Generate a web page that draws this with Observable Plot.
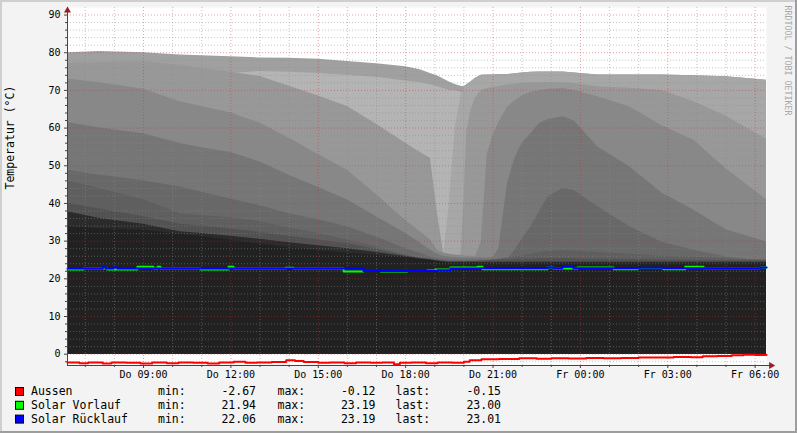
<!DOCTYPE html>
<html><head><meta charset="utf-8">
<script src="https://cdn.jsdelivr.net/npm/d3@7"></script>
<script src="https://cdn.jsdelivr.net/npm/@observablehq/plot@0.6"></script>
<style>
html,body{margin:0;padding:0;background:#f3f3f3;}
#wrap{position:relative;width:797px;height:433px;background:#f3f3f3;overflow:hidden;font-family:"DejaVu Sans Mono",monospace;}
#wrap svg{position:absolute;left:0;}
.bd{position:absolute;}
</style></head><body><div id="wrap"></div>
<script>
// time in hours since Thursday 00:00
const T = [6.39, 7.5, 9, 10.25, 11, 12, 13, 14, 15, 16, 17, 18, 18.5, 18.85, 19.1, 19.3, 19.5, 19.7, 19.9, 20.0, 20.1, 20.25, 20.4, 20.6, 20.8, 21.0, 21.2, 21.5, 21.75, 22.0, 22.3, 22.6, 22.9, 23.4, 23.8, 24.6, 25.7, 26.8, 27.9, 29.0, 30.39];

// stratified tank sensors (°C), drawn in this order
const sensor0 = [80,80.3,80,79.4,79.2,78.9,78.6,78.5,78.3,77.7,77.1,76.3,75.5,74.5,73.8,73,72.2,71.6,71.1,71,71.5,72.3,73.2,74,74.1,74.1,74.2,74.2,74.4,74.6,74.8,74.9,74.9,74.9,74.6,74.1,74.1,74.1,73.9,73.6,72.7];
const sensor1 = [74,74,75,75,74.5,74.5,75,74.8,74.5,74,73.5,72.5,72,71.5,71,70.5,70,70,69.5,69,66,62,60,60,60,60,60,60,60,60,60,60,60,60,60,60,60,60,60,60,60];
const sensor2 = [75,75,75.5,74.5,73.5,72.5,71.5,69,66.5,63.5,59,54,51.5,50,30,25.5,40,60,68.5,70.5,71.5,72.3,73.2,74,74.1,74.1,74.2,74.2,74.4,74.6,74.8,74.9,74.9,74.9,74.6,74.1,74.1,74.1,73.9,73.6,72.7];
const sensor3 = [77.2,77.4,77.6,76.7,75.8,74.8,73.7,71.1,68.5,65.7,61,56,53.5,52,37,27,26.3,26,26.3,40,59,65,68,70,70.5,70.8,71,71.5,71.7,71.8,72,72,72,72,71.8,71,70.6,70,67,63.2,57];
const sensor4 = [73,72,70.3,67,65.7,64,61.3,57.3,53,48.8,42.3,35.5,32.5,30.3,27.5,26.8,26.5,26.3,26.2,26.1,26,26,26,30,53,58,61.5,65.6,67.2,68.5,69.5,70,70.3,70.5,70,68.3,65.6,60.6,56.8,49.2,41];
const sensor5 = [61.5,60,58.5,55.9,54.8,53.5,51,47.5,44.3,40.9,36.5,32,29.5,27.6,26.5,26,25.8,25.6,25.5,25.5,25.5,25.5,25.5,25.5,25.5,25.6,28,45.4,52,56,58.5,61.2,62.3,63,61.8,55,49.7,42.8,38.2,33,29.8];
const sensor6 = [48.8,47.5,46,44.4,43,41.2,39.4,37.3,35.7,33.8,31,28,26.8,25.8,25.3,25.1,25,25,25,25,25,25,25,25,25,25,25,25.2,27.5,30.5,33.8,38,41.8,44,43.4,39.1,33.8,29.7,27.6,25.8,24.5];
const sensor7 = [46,44,41,37.3,36.8,36.2,35.2,33.5,32,30.3,28.5,26,25.2,24.6,24.5,24.5,24.5,24.5,24.5,24.5,24.5,24.5,24.5,24.5,24.7,25,25.2,25.5,25.8,26,26.5,27,27.3,27.5,27.4,27,26.5,26,25.7,25.3,25];
const sensor8 = [40,38.5,36.5,34.5,34,33.2,32.3,31.3,30.3,29.3,27.8,26.2,25.5,25.2,24.9,24.7,24.6,24.6,24.6,24.6,24.6,24.6,24.6,24.7,24.8,24.9,25,25,25.1,25.2,25.2,25.3,25.3,25.4,25.3,25.2,25.1,25,24.9,24.8,24.7];
const sensor9 = [37.8,36,34.5,32.5,32,31.3,30.5,29.6,28.8,28,27,25.9,25.3,25,24.7,24.5,24.4,24.4,24.4,24.4,24.4,24.4,24.4,24.4,24.4,24.4,24.4,24.4,24.4,24.4,24.4,24.4,24.4,24.4,24.4,24.4,24.4,24.4,24.4,24.4,24.4];
const sensor10 = [33.8,33.3,32.9,31.8,31.2,30.2,29.2,28.3,27.5,26.8,26.2,25.5,25.1,24.9,24.6,24.4,24.2,24.2,24.2,24.2,24.2,24.2,24.2,24,24,24,24,24,24,24,24,24,24,24,24,24,24,24,24,24,24];
const sensorColors = ["#a0a0a0","#b4b4b4","#a7a7a7","#989898","#888888","#767676","#686868","#5f5f5f","#525252","#2b2b2b","#212121"];

// Aussen
const redT = [6.39,6.8,7.1,7.6,7.9,8.4,8.9,9.3,9.8,10.2,10.7,11.2,11.6,12.1,12.5,12.9,13.4,13.9,14.2,14.5,15.0,15.4,15.9,16.3,16.8,17.2,17.6,17.8,18.2,18.7,19.1,19.6,20.0,20.2,20.6,21.2,21.9,22.5,23.0,23.6,24.2,24.8,25.4,26.0,26.6,27.2,27.8,28.2,28.7,29.2,29.6,30.0,30.39];
const redV = [-2.2,-2.4,-2.2,-2.5,-2.2,-2.3,-2.5,-2.2,-2.4,-2.2,-2.3,-2.5,-2.2,-2.0,-2.3,-2.2,-2.1,-1.6,-1.8,-2.1,-2.3,-2.2,-2.4,-2.2,-2.3,-2.2,-2.67,-2.3,-2.2,-2.4,-2.2,-2.3,-2.0,-1.6,-1.35,-1.3,-1.1,-1.2,-1.05,-1.15,-1.0,-1.1,-1.0,-0.85,-0.9,-0.75,-0.8,-0.55,-0.45,-0.25,-0.12,-0.2,-0.15];
// Solar Vorlauf
const greenT = [6.39,6.94,7.76,8.79,9.34,9.48,9.58,10.96,11.92,12.09,13.88,14.15,15.87,16.55,17.14,18.06,18.75,19.03,19.54,20.47,20.64,22.87,23.07,23.9,25.14,25.96,26.85,27.6,28.23,30.2,30.39];
const greenV = [22.5,22.75,22.5,23.19,22.75,23.19,22.75,22.5,23.19,22.75,22.95,22.75,21.95,22.06,21.94,22.06,22.2,22.5,23.0,23.19,22.55,23.1,22.75,23.0,22.55,22.9,22.55,23.19,22.8,23.0,23.0];
// Solar Rücklauf
const blueT = [6.39,7.6,7.7,7.97,8.1,16.55,19.09,19.54,20.57,22.87,23.07,23.38,23.76,25.96,26.85,30.2,30.39];
const blueV = [22.75,23.05,22.75,23.05,22.75,22.06,22.3,22.75,22.8,23.1,22.8,23.19,22.8,22.95,22.8,23.01,23.01];

const tickHours = [9,12,15,18,21,24,27,30];
const tickLabels = ["Do 09:00","Do 12:00","Do 15:00","Do 18:00","Do 21:00","Fr 00:00","Fr 03:00","Fr 06:00"];
const yLabels = [0,10,20,30,40,50,60,70,80,90];

const legendNames = ["Aussen","Solar Vorlauf","Solar Rücklauf"];
const legendColors = ["#ff0000","#00ff00","#0000ff"];
const legendMin = ["-2.67","21.94","22.06"];
const legendMax = ["-0.12","23.19","23.19"];
const legendLast = ["-0.15","23.00","23.01"];

const x0 = T[0], x1 = T[T.length-1];
const sensors = [sensor0,sensor1,sensor2,sensor3,sensor4,sensor5,sensor6,sensor7,sensor8,sensor9,sensor10];
const rows = v => T.map((t,i)=>({t, v:v[i]}));
const pts = (ts, vs) => ts.map((t,i)=>({t, v:vs[i]}));

const xMinor = d3.range(7,31).filter(h => h % 3 !== 0);
const xMajor = d3.range(9,31,3);
const yMinor = d3.range(-2,92,2).filter(v => v % 10 !== 0);
const yMajor = yLabels;

const chart = Plot.plot({
  width: 797, height: 383,
  marginLeft: 67, marginRight: 31, marginTop: 7, marginBottom: 18,
  x: {domain: [x0, x1]},
  y: {domain: [-3, 92]},
  style: {fontFamily: "DejaVu Sans Mono", fontSize: "10px", background: "transparent", color: "#000", overflow: "visible"},
  marks: [
    Plot.frame({fill: "white", stroke: null}),
    ...sensors.map((s,i) => Plot.areaY(rows(s), {x: "t", y: "v", fill: sensorColors[i]})),
    Plot.ruleX(xMinor, {stroke: "#8c8c8c", strokeOpacity: 0.5, strokeDasharray: "1,2"}),
    Plot.ruleY(yMinor, {stroke: "#8c8c8c", strokeOpacity: 0.5, strokeDasharray: "1,2"}),
    Plot.ruleX(xMajor, {stroke: "#c83030", strokeOpacity: 0.45, strokeDasharray: "1,2"}),
    Plot.ruleY(yMajor, {stroke: "#c83030", strokeOpacity: 0.45, strokeDasharray: "1,2"}),
    Plot.line(pts(greenT, greenV), {x: "t", y: "v", stroke: "#00ff00", strokeWidth: 2, curve: "step-after"}),
    Plot.line(pts(blueT, blueV), {x: "t", y: "v", stroke: "#0000ff", strokeWidth: 2, curve: "step-after"}),
    Plot.line(pts(redT, redV), {x: "t", y: "v", stroke: "#ff0000", strokeWidth: 2, curve: "step-after"}),
    Plot.axisY({ticks: yMinor, tickSize: 2, tickFormat: () => "", stroke: "#444", label: null}),
    Plot.axisY({ticks: yMajor, tickSize: 3, tickPadding: 4, stroke: "#444", label: null, fontSize: 10}),
    Plot.axisX({ticks: xMinor, tickSize: 2, tickFormat: () => "", stroke: "#444", label: null}),
    Plot.axisX({ticks: tickHours, tickSize: 3, tickPadding: 2, stroke: "#444", label: null, fontSize: 10,
      tickFormat: d => tickLabels[tickHours.indexOf(d)]}),
    Plot.ruleY([-3], {x1: x0, x2: 30.58, stroke: "#444"}),
    Plot.ruleX([x0], {y1: -3, y2: 92, stroke: "#444"}),
    Plot.dot([[x0, 91.2]], {symbol: "triangle", r: 2.6, fill: "#a01c1c", stroke: null}),
    Plot.dot([[30.55, -3]], {symbol: "triangle", r: 2.6, rotate: 90, fill: "#a01c1c", stroke: null}),
    Plot.text(["Temperatur (°C)"], {frameAnchor: "left", dx: -57, dy: 3, rotate: -90, fontSize: 11.5, fill: "#000"}),
    Plot.text(["RRDTOOL / TOBI OETIKER"], {frameAnchor: "top-right", dx: 24, dy: -2, rotate: 90, textAnchor: "start", fontSize: 8.3, fill: "#a8a8a8"})
  ]
});
const wrap = document.getElementById("wrap");
chart.style.top = "0px";
wrap.appendChild(chart);

// legend below the plot
const lg = d3.select(wrap).append("svg")
  .attr("width", 797).attr("height", 50)
  .style("top", "383px")
  .attr("font-family", "DejaVu Sans Mono").attr("font-size", 11.5);
legendNames.forEach((n,i) => {
  const by = 12 + i*13.8;
  const g = lg.append("g");
  g.append("rect").attr("x", 15.5).attr("y", by - 7.5).attr("width", 8).attr("height", 8)
    .attr("fill", legendColors[i]).attr("stroke", "#000");
  g.append("text").attr("x", 31).attr("y", by).text(n);
  g.append("text").attr("x", 158).attr("y", by).text("min:");
  g.append("text").attr("x", 256).attr("y", by).attr("text-anchor", "end").text(legendMin[i]);
  g.append("text").attr("x", 277.5).attr("y", by).text("max:");
  g.append("text").attr("x", 375.5).attr("y", by).attr("text-anchor", "end").text(legendMax[i]);
  g.append("text").attr("x", 395.5).attr("y", by).text("last:");
  g.append("text").attr("x", 501).attr("y", by).attr("text-anchor", "end").text(legendLast[i]);
});

// frame shading
[["0px","0px","797px","2px","#cfcfcf"],["0px","0px","2px","433px","#cfcfcf"],
 ["0px","431px","797px","2px","#9e9e9e"],["795px","0px","2px","433px","#9e9e9e"]].forEach(b => {
  const d = document.createElement("div");
  d.className = "bd";
  Object.assign(d.style, {left: b[0], top: b[1], width: b[2], height: b[3], background: b[4]});
  wrap.appendChild(d);
});
</script>
</body></html>
